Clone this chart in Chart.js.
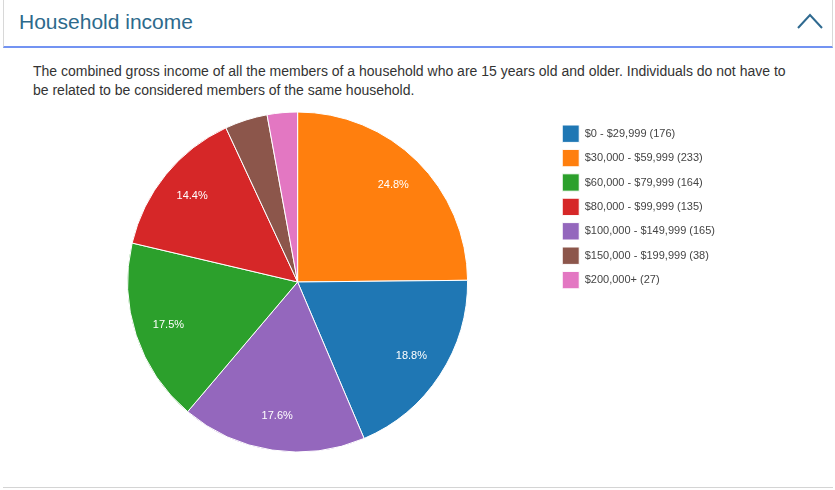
<!DOCTYPE html>
<html>
<head>
<meta charset="utf-8">
<script src="https://cdn.jsdelivr.net/npm/chart.js@4"></script>
<style>
  html, body { margin: 0; padding: 0; background: #fff; }
  body { width: 835px; height: 490px; position: relative; overflow: hidden; font-family: "Liberation Sans", Arial, sans-serif; }
  .panel-head {
    position: absolute; left: 3px; top: -1px; width: 828px; height: 46px;
    border: 1px solid #d8d8d8; border-bottom: 2px solid #7393f2; background: #fff;
  }
  .panel-head h2 {
    margin: 0; position: absolute; left: 15px; top: 10px;
    font-weight: normal; font-size: 21px; color: #2d6a8c;
  }
  .chev { position: absolute; left: 790px; top: 10px; }
  .desc {
    position: absolute; left: 33px; top: 62px; width: 765px;
    font-size: 14px; line-height: 19px; color: #333;
  }
  .foot { position: absolute; left: 3px; top: 487px; width: 830px; border-top: 1px solid #d4d4d4; }
  .wrap { position: absolute; left: 0; top: 0; width: 835px; height: 490px; }
</style>
</head>
<body>
<div class="panel-head">
  <h2>Household income</h2>
  <svg class="chev" width="32" height="22" viewBox="0 0 32 22">
    <polyline points="4,18 16,5 28,18" fill="none" stroke="#2f6a90" stroke-width="2"/>
  </svg>
</div>
<div class="desc">The combined gross income of all the members of a household who are 15 years old and older. Individuals do not have to be related to be considered members of the same household.</div>
<div class="foot"></div>
<div class="wrap"><canvas id="myChart"></canvas></div>

<script>
// slices in drawing order (clockwise from 12 o'clock)
const brackets = ['$30,000 - $59,999', '$0 - $29,999', '$100,000 - $149,999', '$60,000 - $79,999',
                  '$80,000 - $99,999', '$150,000 - $199,999', '$200,000+'];
const households = [233, 176, 165, 164, 135, 38, 27];
const sliceColors = ['#ff7f0e', '#1f77b4', '#9467bd', '#2ca02c', '#d62728', '#8c564b', '#e377c2'];
// legend order
const legendOrder = ['$0 - $29,999', '$30,000 - $59,999', '$60,000 - $79,999', '$80,000 - $99,999',
                     '$100,000 - $149,999', '$150,000 - $199,999', '$200,000+'];

const total = households.reduce((a, b) => a + b, 0);

// percent text inside the bigger slices
const sliceText = {
  id: 'sliceText',
  afterDatasetsDraw(chart) {
    const ctx = chart.ctx;
    const meta = chart.getDatasetMeta(0);
    ctx.save();
    ctx.font = '11px "Liberation Sans", Arial, sans-serif';
    ctx.fillStyle = '#ffffff';
    ctx.textAlign = 'center';
    ctx.textBaseline = 'middle';
    meta.data.forEach((arc, i) => {
      const pct = households[i] / total;
      if (pct < 0.05) return;
      const p = arc.getProps(['x', 'y', 'startAngle', 'endAngle', 'outerRadius'], true);
      const mid = (p.startAngle + p.endAngle) / 2;
      const r = p.outerRadius * 0.8;
      ctx.fillText((pct * 100).toFixed(1) + '%', p.x + Math.cos(mid) * r, p.y + Math.sin(mid) * r);
    });
    ctx.restore();
  }
};

const config = {
  type: 'pie',
  data: {
    labels: brackets.map((b, i) => b + ' (' + households[i] + ')'),
    datasets: [{
      data: households,
      backgroundColor: sliceColors,
      borderColor: '#ffffff',
      borderWidth: 1,
      hoverOffset: 0,
      radius: 170,
      clip: false,
    }]
  },
  options: {
    responsive: false,
    animation: false,
    layout: { padding: { left: 40, right: 110, top: 118, bottom: 44 } },
    plugins: {
      tooltip: { enabled: false },
      legend: {
        position: 'right',
        align: 'start',
        labels: {
          boxWidth: 17,
          boxHeight: 17.4,
          padding: 7,
          color: '#444',
          font: { family: '"Liberation Sans", Arial, sans-serif', size: 11 },
          sort: (a, b) => legendOrder.indexOf(brackets[a.index]) - legendOrder.indexOf(brackets[b.index]),
        }
      }
    }
  },
  plugins: [sliceText]
};

const canvas = document.getElementById('myChart');
canvas.width = 835;
canvas.height = 490;
const myChart = new Chart(canvas.getContext('2d'), config);
</script>
</body>
</html>
